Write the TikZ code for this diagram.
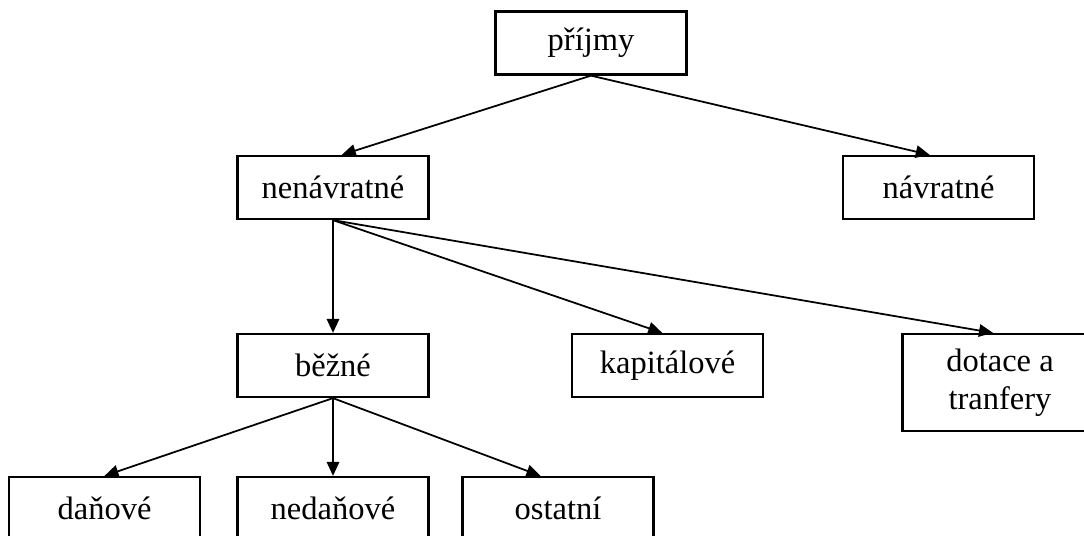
\documentclass[tikz,border=0pt]{standalone}
\usepackage{fontspec}
\setmainfont{Liberation Serif}
\usetikzlibrary{arrows.meta}
\tikzset{
	box/.style={draw,line width=1.3pt,minimum width=3.82cm,minimum height=1.26cm,align=center,font=\fontsize{18.5}{21.6}\selectfont},
	link/.style={-{Triangle[length=2.8mm,width=2.5mm]},line width=1pt}
}
\begin{document}
	\begin{tikzpicture}[x=0.02cm,y=0.02cm]
		\useasboundingbox (0,0) rectangle (1084,-536);
		\draw (591,-43) node (prijmy)[box]{příjmy};
		\draw (333,-187.5) node (nenavr)[box]{nenávratné};
		\draw (938.5,-187.5) node (navr)[box]{návratné};
		\draw (333,-365.5) node (bezne)[box]{běžné};
		\draw (667.5,-365.5) node (kapit)[box]{kapitálové};
		\draw (1000,-382.5) node (dotace)[box,minimum width=3.9cm,minimum height=1.94cm]{dotace a\\tranfery};
		\draw (104.5,-508.5) node (danove)[box]{daňové};
		\draw (333,-508.5) node (nedan)[box]{nedaňové};
		\draw (558,-508.5) node (ostatni)[box]{ostatní};

		\draw[link] (prijmy.south)--([xshift=5pt]nenavr.north);
		\draw[link] (prijmy.south)--([xshift=-5pt]navr.north);
		\draw[link] (nenavr.south)--(bezne.north);
		\draw[link] (nenavr.south)--([xshift=-3pt]kapit.north);
		\draw[link] (nenavr.south)--([xshift=-4pt]dotace.north);
		\draw[link] (bezne.south)--(danove.north);
		\draw[link] (bezne.south)--(nedan.north);
		\draw[link] (bezne.south)--([xshift=-10pt]ostatni.north);
	\end{tikzpicture}
\end{document}
